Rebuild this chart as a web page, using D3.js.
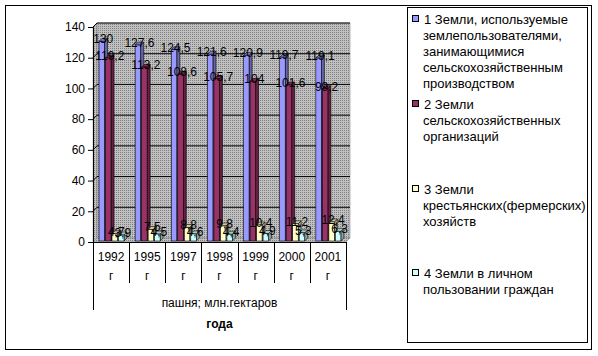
<!DOCTYPE html>
<html><head><meta charset="utf-8">
<script src="https://cdn.jsdelivr.net/npm/d3@7"></script>
<style>body{margin:0;background:#fff}svg{display:block}text{font-family:"Liberation Sans",Arial,sans-serif}</style>
</head><body><svg id="c" width="598" height="356"></svg>
<script>
const years = ["1992","1995","1997","1998","1999","2000","2001"];
const yearSuffix = "г";
const seriesNames = [
  ["1 Земли, используемые","землепользователями,","занимающимися","сельскохозяйственным","производством"],
  ["2 Земли","сельскохозяйственных","организаций"],
  ["3 Земли","крестьянских(фермерских)","хозяйств"],
  ["4 Земли в личном","пользовании граждан"]
];
const s1 = [130, 127.6, 124.5, 121.6, 120.9, 119.7, 119.1];
const s2 = [119.2, 113.2, 108.6, 105.7, 104, 101.6, 99.2];
const s3 = [4.7, 7.5, 8.8, 9.8, 10.4, 11.2, 12.4];
const s4 = [3.9, 4.5, 4.6, 4.4, 4.9, 5.3, 6.3];
const yTicks = [0,20,40,60,80,100,120,140];
const colors = ["#9999FF","#993366","#FFFFCC","#CCFFFF"];
const axisTitle = "пашня; млн.гектаров";
const xTitle = "года";

const svg = d3.select("#c");
const font = '"Liberation Sans",Arial,sans-serif';
const defs = svg.append("defs");
const pat = defs.append("pattern").attr("id","dots").attr("width",2).attr("height",2).attr("patternUnits","userSpaceOnUse");
pat.append("rect").attr("width",2).attr("height",2).attr("fill","#c0c0c0");
pat.append("rect").attr("width",1).attr("height",1).attr("fill","#808080");

// outer border
svg.append("rect").attr("x",5.5).attr("y",5.5).attr("width",586).attr("height",344)
  .attr("fill","none").attr("stroke","#000");

const X0 = 93, X1 = 346, D = 4;
const y = d3.scaleLinear().domain([0,140]).range([242,27]);
const x = d3.scaleBand().domain(years).range([X0,X1]).paddingInner(0).paddingOuter(0);
const xs = d3.scaleBand().domain([0,1,2,3]).range([5,31]).paddingInner(0);

const y0 = y(0), yT = y(140);
svg.append("path").attr("d",`M${X0},${y0}L${X0+D},${y0-D}L${X0+D},${yT-D}L${X0},${yT}Z`)
  .attr("fill","url(#dots)").attr("stroke","#808080").attr("stroke-width",0.5);
svg.append("rect").attr("x",X0+D).attr("y",yT-D).attr("width",X1-X0).attr("height",y0-yT)
  .attr("fill","url(#dots)").attr("stroke","#808080").attr("stroke-width",0.5);
svg.append("path").attr("d",`M${X0},${y0}L${X1},${y0}L${X1+D},${y0-D}L${X0+D},${y0-D}Z`)
  .attr("fill","url(#dots)").attr("stroke","#808080").attr("stroke-width",0.5);

yTicks.forEach(t=>{
  const yy = y(t);
  if (t>0) {
    svg.append("path").attr("d",`M${X0},${yy}L${X0+D},${yy-D}L${X1+D},${yy-D}`)
      .attr("fill","none").attr("stroke","#000").attr("stroke-width",1);
  }
});

const yAxis = d3.axisLeft(y).tickValues(yTicks).tickSize(5).tickPadding(3);
const ga = svg.append("g").attr("transform",`translate(${X0},0)`).call(yAxis);
ga.select(".domain").attr("stroke","#000");
ga.selectAll("line").attr("stroke","#000");
ga.selectAll("text").attr("font-family",font).attr("font-size",12).attr("fill","#000");

svg.append("line").attr("x1",X0).attr("x2",X1).attr("y1",y0+0.5).attr("y2",y0+0.5).attr("stroke","#000");
years.forEach((yr,i)=>{
  const bx = x(yr);
  if (i>0) svg.append("line").attr("x1",Math.round(bx)+0.5).attr("x2",Math.round(bx)+0.5).attr("y1",y0).attr("y2",283).attr("stroke","#000");
  svg.append("text").attr("x",bx+x.bandwidth()/2).attr("y",261).attr("text-anchor","middle")
    .attr("font-size",12).attr("font-family",font).text(yr);
  svg.append("text").attr("x",bx+x.bandwidth()/2).attr("y",280).attr("text-anchor","middle")
    .attr("font-size",12).attr("font-family",font).text(yearSuffix);
});
svg.append("line").attr("x1",X0+0.5).attr("x2",X0+0.5).attr("y1",y0).attr("y2",310).attr("stroke","#000");
svg.append("line").attr("x1",X1+0.5).attr("x2",X1+0.5).attr("y1",y0).attr("y2",310).attr("stroke","#000");
svg.append("text").attr("x",(X0+X1)/2).attr("y",307).attr("text-anchor","middle")
  .attr("font-size",12).attr("font-family",font).text(axisTitle);
svg.append("text").attr("x",(X0+X1)/2).attr("y",328).attr("text-anchor","middle")
  .attr("font-size",12).attr("font-weight","bold").attr("font-family",font).text(xTitle);

const all = [s1,s2,s3,s4];
const bd = 3, off = 1;
const bars = svg.append("g");
const labels = [];
years.forEach((yr,i)=>{
  all.forEach((s,k)=>{
    const v = s[i];
    const bx = x(yr) + xs(k) + off;
    const w = xs.bandwidth()-1;
    const yt = y(v) - off, yb = y0 - off;
    const c = d3.color(colors[k]);
    const g = bars.append("g").attr("stroke","#000").attr("stroke-width",0.6);
    g.append("path").attr("d",`M${bx+w},${yt}L${bx+w+bd},${yt-bd}L${bx+w+bd},${yb-bd}L${bx+w},${yb}Z`)
      .attr("fill",c.darker(1.2).formatHex());
    g.append("path").attr("d",`M${bx},${yt}L${bx+bd},${yt-bd}L${bx+w+bd},${yt-bd}L${bx+w},${yt}Z`)
      .attr("fill",c.darker(0.6).formatHex());
    g.append("rect").attr("x",bx).attr("y",yt).attr("width",w).attr("height",yb-yt).attr("fill",colors[k]);
    labels.push({x:bx+w/2+bd/2, y:yt+2, t:String(v).replace(".",",")});
  });
});
svg.append("g").selectAll("text").data(labels).join("text")
  .attr("x",d=>d.x).attr("y",d=>d.y).attr("text-anchor","middle")
  .attr("font-size",12).attr("font-family",font).attr("fill","#000").text(d=>d.t);

svg.append("rect").attr("x",407.5).attr("y",7.5).attr("width",180).attr("height",335)
  .attr("fill","#fff").attr("stroke","#000");
const legY = [19,104,189,273];
seriesNames.forEach((lines,k)=>{
  svg.append("rect").attr("x",412.5).attr("y",legY[k]-3.5).attr("width",6).attr("height",6)
    .attr("fill",colors[k]).attr("stroke","#000").attr("stroke-width",1);
  lines.forEach((ln,j)=>{
    svg.append("text").attr("x",j===0?424:423).attr("y",legY[k]+4.5+j*16)
      .attr("font-size",13).attr("font-family",font).text(ln);
  });
});
</script></body></html>
